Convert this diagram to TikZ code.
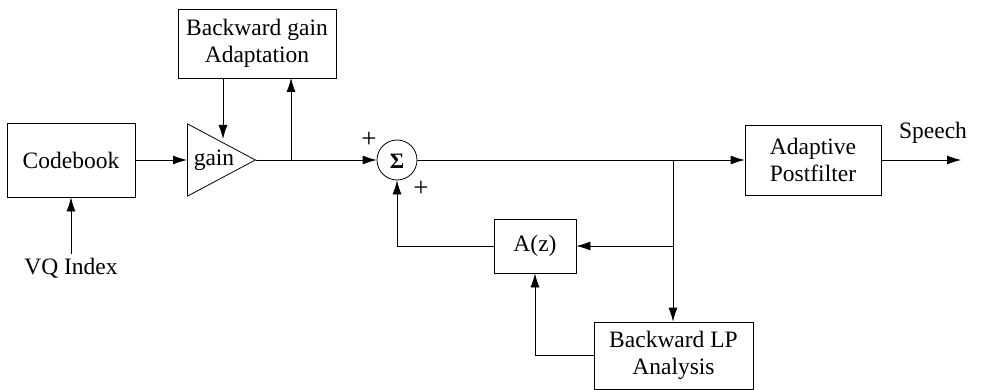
\documentclass[tikz,border=0pt]{standalone}
\usepackage{fontspec}
\setmainfont{Liberation Serif}
\usetikzlibrary{shapes.geometric,arrows.meta}
\begin{document}
\begin{tikzpicture}[x=1pt,y=-1pt,
  every node/.style={font=\fontsize{23.5}{27}\selectfont},
  blk/.style={draw, thick, align=center, inner sep=0pt},
  wire/.style={thick},
  arr/.style={thick,-{Latex[length=14pt,width=9pt]}},
  sgn/.style={font=\fontsize{27}{27}\selectfont, inner sep=0pt}]
\useasboundingbox (0,0) rectangle (1003,390);
\node[blk, minimum width=128pt, minimum height=74pt] (cb) at (71,160) {Codebook};
\node[blk, minimum width=158pt, minimum height=69pt] (bga) at (257,43.5) {Backward gain\\Adaptation};
\node[draw, thick, isosceles triangle, isosceles triangle apex angle=56, minimum height=68pt, inner sep=0pt, anchor=west] (g) at (187,160) {};
\node at (214,160) (gl) {gain};
\node[draw, thick, circle, minimum size=40pt, inner sep=0pt] (s) at (397,160) {};
\node[font=\fontsize{22}{22}\selectfont\bfseries] at (397,161) (sl) {Σ};
\node[sgn] (p1) at (369,140) {+};
\node[sgn] (p2) at (421,189) {+};
\node[blk, minimum width=136pt, minimum height=70pt] (pf) at (813,160) {Adaptive\\Postfilter};
\node (sp) at (933,133) {Speech};
\coordinate (out) at (961,160);
\node[blk, minimum width=82pt, minimum height=54pt] (az) at (535,246) {A(z)};
\node[blk, minimum width=159pt, minimum height=67pt] (lp) at (673.5,355.5) {Backward LP\\Analysis};
\node (vq) at (71,268) {VQ Index};
\coordinate (j1) at (291,160);
\coordinate (j2) at (673,160);
\coordinate (j3) at (673,246);

\draw[arr] (vq.north) -- (cb.south);
\draw[arr] (cb.east) -- (g.west);
\draw[arr] (223,78) -- (223,139);
\draw[arr] (j1) -- (291,78);
\draw[arr] (g.apex) -- (s.west);
\draw[arr] (s.east) -- (pf.west);
\draw[arr] (pf.east) -- (out);
\draw[arr] (j2) -- (lp.north -| j2);
\draw[arr] (j3) -- (az.east);
\draw[arr] (az.west) -| (s.south);
\draw[arr] (lp.west) -| (az.south);
\end{tikzpicture}
\end{document}
